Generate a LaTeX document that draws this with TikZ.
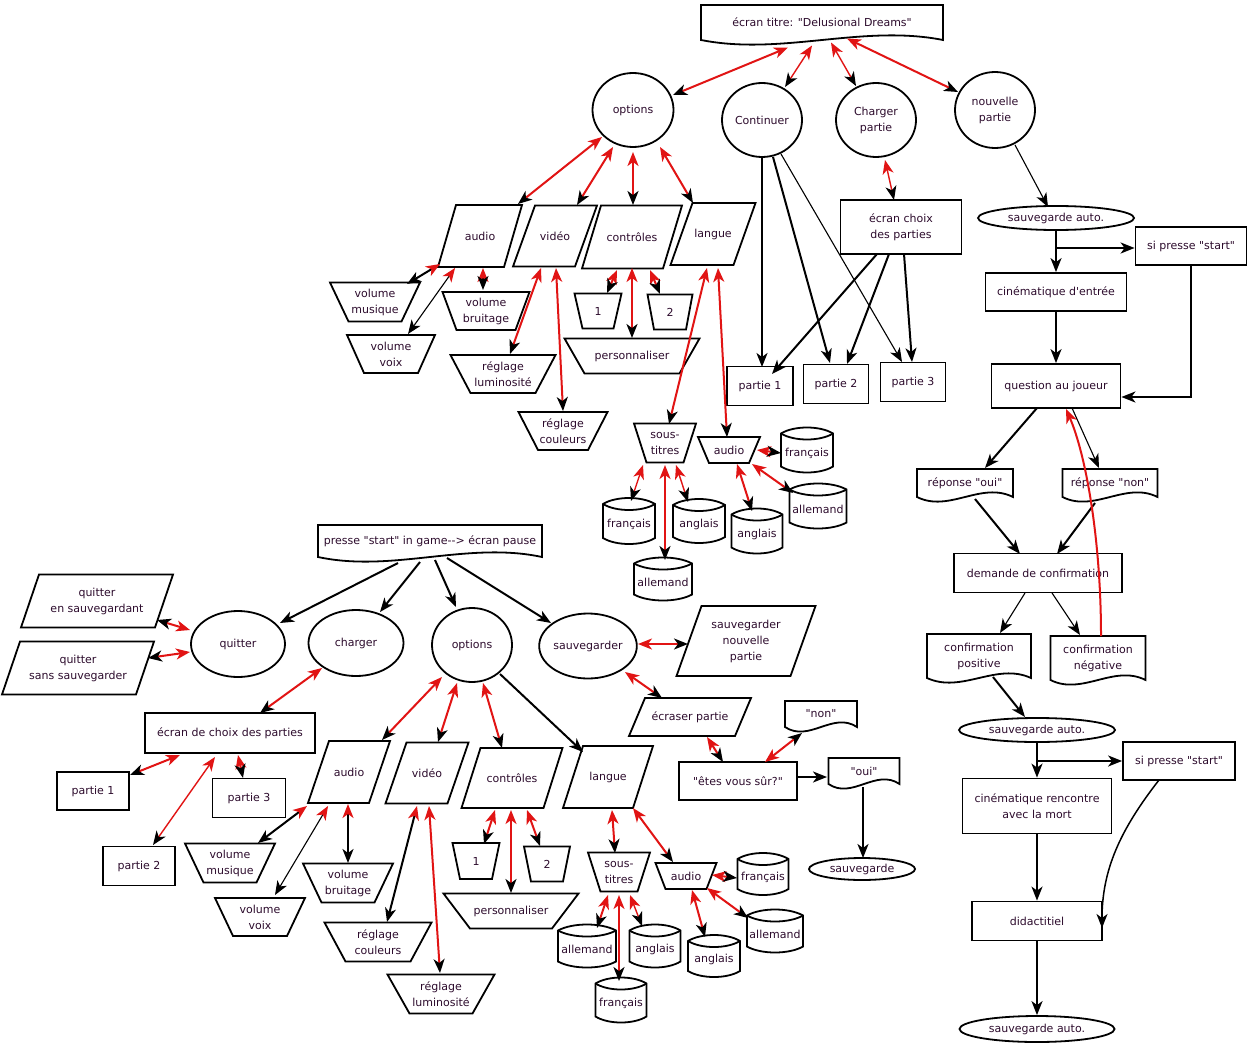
\documentclass[tikz,border=0pt]{standalone}
\usepackage{fontspec}
\newfontfamily\dejav{DejaVu Sans}
\usetikzlibrary{shapes.geometric,arrows.meta}
\definecolor{myred}{RGB}{225,20,20}
\definecolor{txtc}{RGB}{45,12,45}
\tikzset{
 txt/.style={font=\dejav\fontsize{11}{16}\selectfont, text=txtc, align=center, inner sep=0pt},
 shp/.style={draw=black, line width=1.8pt, line join=miter},
 rbox/.style={txt, draw=black, line width=1.8pt, rectangle},
 ell/.style={txt, draw=black, line width=1.8pt, ellipse},
 arr/.style={draw=black, line width=2pt, -{Stealth[length=14pt,width=11pt,inset=4pt]}},
 arrt/.style={arr, line width=1.1pt},
 arrm/.style={arr, line width=1.5pt},
 bi/.style={draw=myred, line width=2pt, {Stealth[length=14pt,width=11pt,inset=4pt,color=myred,fill=myred]}-{Stealth[length=14pt,width=11pt,inset=4pt,color=black,fill=black]}},
 bim/.style={bi, line width=1.4pt},
 bik/.style={bi, draw=black},
 bikt/.style={bi, draw=black, line width=1.1pt},
 redarr/.style={draw=myred, line width=2pt, -{Stealth[length=14pt,width=11pt,inset=4pt,color=myred,fill=myred]}},
}
% parallelogram: name x y w h slant text
\newcommand{\mypara}[7]{%
 \node[txt, minimum width=#4, minimum height=#5] (#1) at (#2,#3) {#7};
 \draw[shp] ({#2-#4/2+#6/2},{#3-#5/2}) -- ({#2+#4/2+#6/2},{#3-#5/2}) -- ({#2+#4/2-#6/2},{#3+#5/2}) -- ({#2-#4/2-#6/2},{#3+#5/2}) -- cycle;}
% trapezoid wide top: name x y wtop wbot h text
\newcommand{\mytrap}[7]{%
 \node[txt, minimum width=#4, minimum height=#6] (#1) at (#2,#3) {#7};
 \draw[shp] ({#2-#4/2},{#3-#6/2}) -- ({#2+#4/2},{#3-#6/2}) -- ({#2+#5/2},{#3+#6/2}) -- ({#2-#5/2},{#3+#6/2}) -- cycle;}
% cylinder: name x y w h text
\newcommand{\mycyl}[6]{%
 \draw[shp] ({#2-#4/2},{#3-#5/2+6}) .. controls ({#2-#4/4},{#3-#5/2-2}) and ({#2+#4/4},{#3-#5/2-2}) .. ({#2+#4/2},{#3-#5/2+6}) -- ({#2+#4/2},{#3+#5/2-6}) .. controls ({#2+#4/4},{#3+#5/2+2}) and ({#2-#4/4},{#3+#5/2+2}) .. ({#2-#4/2},{#3+#5/2-6}) -- cycle;
 \draw[shp] ({#2-#4/2},{#3-#5/2+6}) .. controls ({#2-#4/4},{#3-#5/2+14}) and ({#2+#4/4},{#3-#5/2+14}) .. ({#2+#4/2},{#3-#5/2+6});
 \node[txt] (#1) at (#2,{#3+3}) {#6};}
% document (wavy bottom): name x y w h text
\newcommand{\mydoc}[6]{%
 \node[txt, minimum width=#4, minimum height=#5] (#1) at (#2,#3) {#6};
 \draw[shp] ({#2-#4/2},{#3+#5/2}) -- ({#2-#4/2},{#3-#5/2}) -- ({#2+#4/2},{#3-#5/2}) -- ({#2+#4/2},{#3+#5/2}) .. controls ({#2+#4/6},{#3+#5/2-16}) and ({#2-#4/6},{#3+#5/2+16}) .. cycle;}
% connector between named nodes with offsets
\newcommand{\cn}[5]{\draw[#1] ([shift={#3}]#2.center) -- ([shift={#5}]#4.center);}
\begin{document}
\begin{tikzpicture}[x=1pt,y=-1pt]
\fill[white] (0,0) rectangle (1249,1043);
\useasboundingbox (0,0) rectangle (1249,1043);

% ================= TOP =================
\mydoc{title}{822}{22.5}{242}{35}{écran titre: "Delusional Dreams"}
\node[ell, minimum width=81, minimum height=74] (optT) at (633,110) {options};
\node[ell, minimum width=80, minimum height=74] (cont) at (762,120) {Continuer};
\node[ell, minimum width=80, minimum height=74] (charg) at (876,120) {Charger\\partie};
\node[ell, minimum width=80, minimum height=76] (nouv) at (995,110) {nouvelle\\partie};

\mypara{audT}{480}{236}{66}{62}{18}{audio}
\mypara{vidT}{555}{236}{62}{61}{22}{vidéo}
\mypara{ctrT}{632}{237}{81}{63}{19}{contrôles}
\mypara{lngT}{713}{234}{63}{62}{22}{langue}

\mytrap{vmusT}{375}{302}{90}{53}{39}{volume\\musique}
\mytrap{vvoixT}{391}{354}{88}{54}{38}{volume\\voix}
\mytrap{vbruitT}{486}{311}{87}{59}{38}{volume\\bruitage}
\mytrap{lumT}{503}{374}{105}{65}{38}{réglage\\luminosité}
\mytrap{coulT}{563}{431}{89}{50}{38}{réglage\\couleurs}
\mytrap{oneT}{598}{311}{47}{31}{35}{1}
\mytrap{twoT}{670}{312}{45}{32}{35}{2}
\mytrap{persT}{632}{356}{135}{95}{35}{personnaliser}
\mytrap{stT}{665}{443}{62}{37}{39}{sous-\\titres}
\mytrap{audLT}{729}{450}{62}{40}{26}{audio}
\mycyl{frT}{807}{450}{52}{45}{français}
\mycyl{alT}{818}{506}{57}{45}{allemand}
\mycyl{anT}{757}{531}{51}{45}{anglais}
\mycyl{frST}{629}{521}{52}{46}{français}
\mycyl{anST}{699}{521}{52}{44}{anglais}
\mycyl{alST}{663}{579}{58}{43}{allemand}

\node[rbox, minimum width=121, minimum height=54] (choixT) at (901,227) {écran choix\\des parties};
\node[rbox, minimum width=66, minimum height=39] (p1T) at (760,386) {partie 1};
\node[rbox, minimum width=65, minimum height=39] (p2T) at (836,384) {partie 2};
\node[rbox, minimum width=65, minimum height=39] (p3T) at (913,382) {partie 3};

% ================= RIGHT COLUMN =================
\node[ell, minimum width=156, minimum height=24] (sa1) at (1056,218) {sauvegarde auto.};
\node[rbox, minimum width=111, minimum height=38] (sp1) at (1191,246) {si presse "start"};
\node[rbox, minimum width=141, minimum height=38] (cin1) at (1056,292) {cinématique d'entrée};
\node[rbox, minimum width=129, minimum height=44] (quest) at (1056,386) {question au joueur};
\mydoc{roui}{965}{483}{96}{28}{réponse "oui"}
\mydoc{rnon}{1110}{483}{95}{28}{réponse "non"}
\node[rbox, minimum width=168, minimum height=39] (dem) at (1038,573) {demande de confirmation};
\mydoc{cpos}{979}{656}{104}{44}{confirmation\\positive}
\mydoc{cneg}{1098}{658}{95}{44}{confirmation\\négative}
\node[ell, minimum width=156, minimum height=24] (sa2) at (1037,730) {sauvegarde auto.};
\node[rbox, minimum width=112, minimum height=38] (sp2) at (1179,761) {si presse "start"};
\node[rbox, minimum width=149, minimum height=55] (cin2) at (1037,806) {cinématique rencontre\\avec la mort};
\node[rbox, minimum width=130, minimum height=39] (didac) at (1037,921) {didactitiel};
\node[ell, minimum width=155, minimum height=26] (sa3) at (1037,1029) {sauvegarde auto.};

% ================= BOTTOM =================
\mydoc{pause}{430}{541}{224}{32}{presse "start" in game--> écran pause}
\node[ell, minimum width=94, minimum height=66] (quit) at (238,644) {quitter};
\node[ell, minimum width=95, minimum height=66] (charB) at (356,643) {charger};
\node[ell, minimum width=80, minimum height=74] (optB) at (472,645) {options};
\node[ell, minimum width=95, minimum height=65] (sauv) at (588,646) {sauvegarder};
\mypara{qsauv}{97}{601}{134}{53}{18}{quitter\\en sauvegardant}
\mypara{qsans}{78}{668}{134}{53}{18}{quitter\\sans sauvegarder}
\node[rbox, minimum width=170, minimum height=40] (choixB) at (230,733) {écran de choix des parties};
\node[rbox, minimum width=72, minimum height=38] (p1B) at (93,791) {partie 1};
\node[rbox, minimum width=73, minimum height=39] (p3B) at (249,798) {partie 3};
\node[rbox, minimum width=72, minimum height=39] (p2B) at (139,866) {partie 2};
\mypara{audB}{349}{772}{61}{62}{21}{audio}
\mypara{vidB}{427}{773}{62}{61}{21}{vidéo}
\mypara{ctrB}{512}{778}{82}{60}{19}{contrôles}
\mypara{lngB}{608}{777}{70}{62}{20}{langue}
\mypara{snp}{746}{641}{114}{70}{25}{sauvegarder\\nouvelle\\partie}
\mypara{ecr}{690}{717}{106}{38}{16}{écraser partie}
\node[rbox, minimum width=118, minimum height=38] (sure) at (738,781) {"êtes vous sûr?"};
\mydoc{non}{821}{714}{72}{26}{"non"}
\mydoc{oui}{864}{771}{71}{26}{"oui"}
\node[ell, minimum width=106, minimum height=22] (sauvg) at (862,869) {sauvegarde};
\mytrap{vmusB}{230}{863}{90}{53}{39}{volume\\musique}
\mytrap{vvoixB}{260}{917}{90}{54}{38}{volume\\voix}
\mytrap{vbruitB}{348}{883}{90}{53}{39}{volume\\bruitage}
\mytrap{coulB}{378}{942}{107}{65}{39}{réglage\\couleurs}
\mytrap{lumB}{441}{994}{107}{63}{39}{réglage\\luminosité}
\mytrap{oneB}{476}{861}{47}{32}{36}{1}
\mytrap{twoB}{547}{864}{46}{32}{35}{2}
\mytrap{persB}{511}{911}{135}{82}{35}{personnaliser}
\mytrap{stB}{619}{872}{62}{37}{39}{sous-\\titres}
\mytrap{audLB}{686}{876}{61}{41}{26}{audio}
\mycyl{alSTB}{587}{946}{58}{43}{allemand}
\mycyl{anSTB}{655}{946}{51}{43}{anglais}
\mycyl{frSTB}{621}{1000}{51}{45}{français}
\mycyl{frB}{763}{874}{51}{42}{français}
\mycyl{alB}{775}{931}{56}{43}{allemand}
\mycyl{anB}{714}{956}{52}{42}{anglais}

% ================= CONNECTORS TOP =================
\cn{bi}{title}{(-34,25)}{optT}{(40,-15)}
\cn{bim}{title}{(-10,23)}{cont}{(23,-33)}
\cn{bim}{title}{(9,20)}{charg}{(-20,-34)}
\cn{bi}{title}{(25,16)}{nouv}{(-37,-18)}
\cn{bi}{optT}{(-31,27)}{audT}{(38,-32)}
\cn{bi}{optT}{(-20,37)}{vidT}{(22,-31)}
\cn{bi}{optT}{(0,42)}{ctrT}{(1,-32)}
\cn{bi}{optT}{(27,37)}{lngT}{(-20,-31)}
\cn{bik}{audT}{(-40,28)}{vmusT}{(32,-18)}
\cn{bikt}{audT}{(-25,32)}{vvoixT}{(17,-20)}
\cn{bik}{audT}{(3,32)}{vbruitT}{(-3,-21)}
\cn{bi}{vidT}{(-14,32)}{lumT}{(7,-20)}
\cn{bi}{vidT}{(1,32)}{coulT}{(0,-20)}
\cn{bi}{ctrT}{(-15,33)}{oneT}{(9,-18)}
\cn{bi}{ctrT}{(0,31)}{persT}{(0,-18)}
\cn{bi}{ctrT}{(18,33)}{twoT}{(-10,-18)}
\cn{bi}{lngT}{(-6,34)}{stT}{(4,-19)}
\cn{bi}{lngT}{(5,34)}{audLT}{(-2,-13)}
\cn{bim}{stT}{(-22,22)}{frST}{(2,-23)}
\cn{bi}{stT}{(0,22)}{alST}{(2,-22)}
\cn{bim}{stT}{(11,22)}{anST}{(-11,-22)}
\cn{bi}{audLT}{(28,0)}{frT}{(-26,0)}
\cn{bi}{audLT}{(8,14)}{anT}{(-5,-23)}
\cn{bi}{audLT}{(23,14)}{alT}{(-25,-16)}
\cn{arr}{cont}{(0,37)}{p1T}{(2,-19)}
\cn{arr}{cont}{(11,37)}{p2T}{(-6,-21)}
\cn{arrt}{cont}{(19,34)}{p3T}{(-11,-20)}
\cn{bim}{charg}{(9,40)}{choixT}{(-7,-27)}
\cn{arr}{choixT}{(-24,27)}{p1T}{(12,-12)}
\cn{arr}{choixT}{(-12,27)}{p2T}{(11,-20)}
\cn{arr}{choixT}{(3,27)}{p3T}{(-1,-20)}

% ================= CONNECTORS RIGHT =================
\cn{arrt}{nouv}{(20,35)}{sa1}{(-8,-11)}
\draw[arr] (sa1.south) -- (cin1.north);
\coordinate (br1) at (1056,248);
\draw[arr] (br1) -- (br1 -| sp1.west);
\draw[arr] (sp1.south) |- ([shift={(0,11)}]quest.east);
\draw[arr] (cin1.south) -- (quest.north);
\cn{arr}{quest}{(-19,22)}{roui}{(20,-15)}
\cn{arrt}{quest}{(16,22)}{rnon}{(-11,-15)}
\cn{arr}{roui}{(10,16)}{dem}{(-18,-19)}
\cn{arr}{rnon}{(-15,20)}{dem}{(19,-19)}
\cn{arrt}{dem}{(-13,20)}{cpos}{(21,-23)}
\cn{arrt}{dem}{(14,20)}{cneg}{(-18,-23)}
\draw[redarr] ([shift={(3,-22)}]cneg.center) .. controls (1101,540) and (1086,455) .. ([shift={(10,23)}]quest.center);
\cn{arr}{cpos}{(14,21)}{sa2}{(-12,-13)}
\draw[arr] (sa2.south) -- (cin2.north);
\coordinate (br2) at (1037,761);
\draw[arr] (br2) -- (br2 -| sp2.west);
\draw[arr] (cin2.south) -- (didac.north);
\draw[arrm] ([shift={(-20,19)}]sp2.center) .. controls (1120,830) and (1102,870) .. ([shift={(65,7)}]didac.center);
\draw[arr] (didac.south) -- (sa3.north);

% ================= CONNECTORS BOTTOM =================
\cn{arr}{pause}{(-32,22)}{quit}{(42,-21)}
\cn{arr}{pause}{(-10,21)}{charB}{(24,-31)}
\cn{arr}{pause}{(5,19)}{optB}{(-16,-38)}
\cn{arr}{pause}{(17,17)}{sauv}{(-37,-23)}
\cn{bi}{quit}{(-48,-14)}{qsauv}{(60,19)}
\cn{bi}{quit}{(-48,8)}{qsans}{(70,-10)}
\cn{bi}{charB}{(-34,25)}{choixB}{(30,-20)}
\cn{bi}{choixB}{(-50,22)}{p1B}{(37,-16)}
\cn{bim}{choixB}{(-15,24)}{p2B}{(14,-21)}
\cn{bi}{choixB}{(8,22)}{p3B}{(-6,-20)}
\cn{bi}{optB}{(-30,32)}{audB}{(33,-32)}
\cn{bi}{optB}{(-15,38)}{vidB}{(11,-31)}
\cn{bi}{optB}{(11,38)}{ctrB}{(-10,-30)}
\cn{arr}{optB}{(28,29)}{lngB}{(-25,-25)}
\cn{bi}{sauv}{(50,-2)}{snp}{(-58,3)}
\cn{bi}{sauv}{(37,26)}{ecr}{(-28,-19)}
\cn{bi}{ecr}{(17,20)}{sure}{(-15,-19)}
\cn{bi}{sure}{(27,-19)}{non}{(-19,19)}
\cn{arr}{sure}{(59,-4)}{oui}{(-37,6)}
\cn{arr}{oui}{(-1,16)}{sauvg}{(1,-11)}
\cn{bik}{audB}{(-42,34)}{vmusB}{(28,-20)}
\cn{bikt}{audB}{(-21,34)}{vvoixB}{(15,-22)}
\cn{bik}{audB}{(-1,32)}{vbruitB}{(0,-20)}
\cn{bik}{vidB}{(-10,33)}{coulB}{(9,-20)}
\cn{bi}{vidB}{(2,33)}{lumB}{(-1,-21)}
\cn{bi}{ctrB}{(-17,32)}{oneB}{(8,-17)}
\cn{bi}{ctrB}{(-1,32)}{persB}{(0,-18)}
\cn{bi}{ctrB}{(15,32)}{twoB}{(-7,-18)}
\cn{bi}{lngB}{(4,33)}{stB}{(-4,-19)}
\cn{bi}{lngB}{(25,31)}{audLB}{(-13,-14)}
\cn{bi}{stB}{(-11,23)}{alSTB}{(10,-21)}
\cn{bi}{stB}{(0,23)}{frSTB}{(-2,-22)}
\cn{bim}{stB}{(11,23)}{anSTB}{(-13,-23)}
\cn{bi}{audLB}{(26,-1)}{frB}{(-26,1)}
\cn{bi}{audLB}{(6,14)}{anB}{(-9,-22)}
\cn{bi}{audLB}{(21,12)}{alB}{(-27,-16)}
\end{tikzpicture}
\end{document}
